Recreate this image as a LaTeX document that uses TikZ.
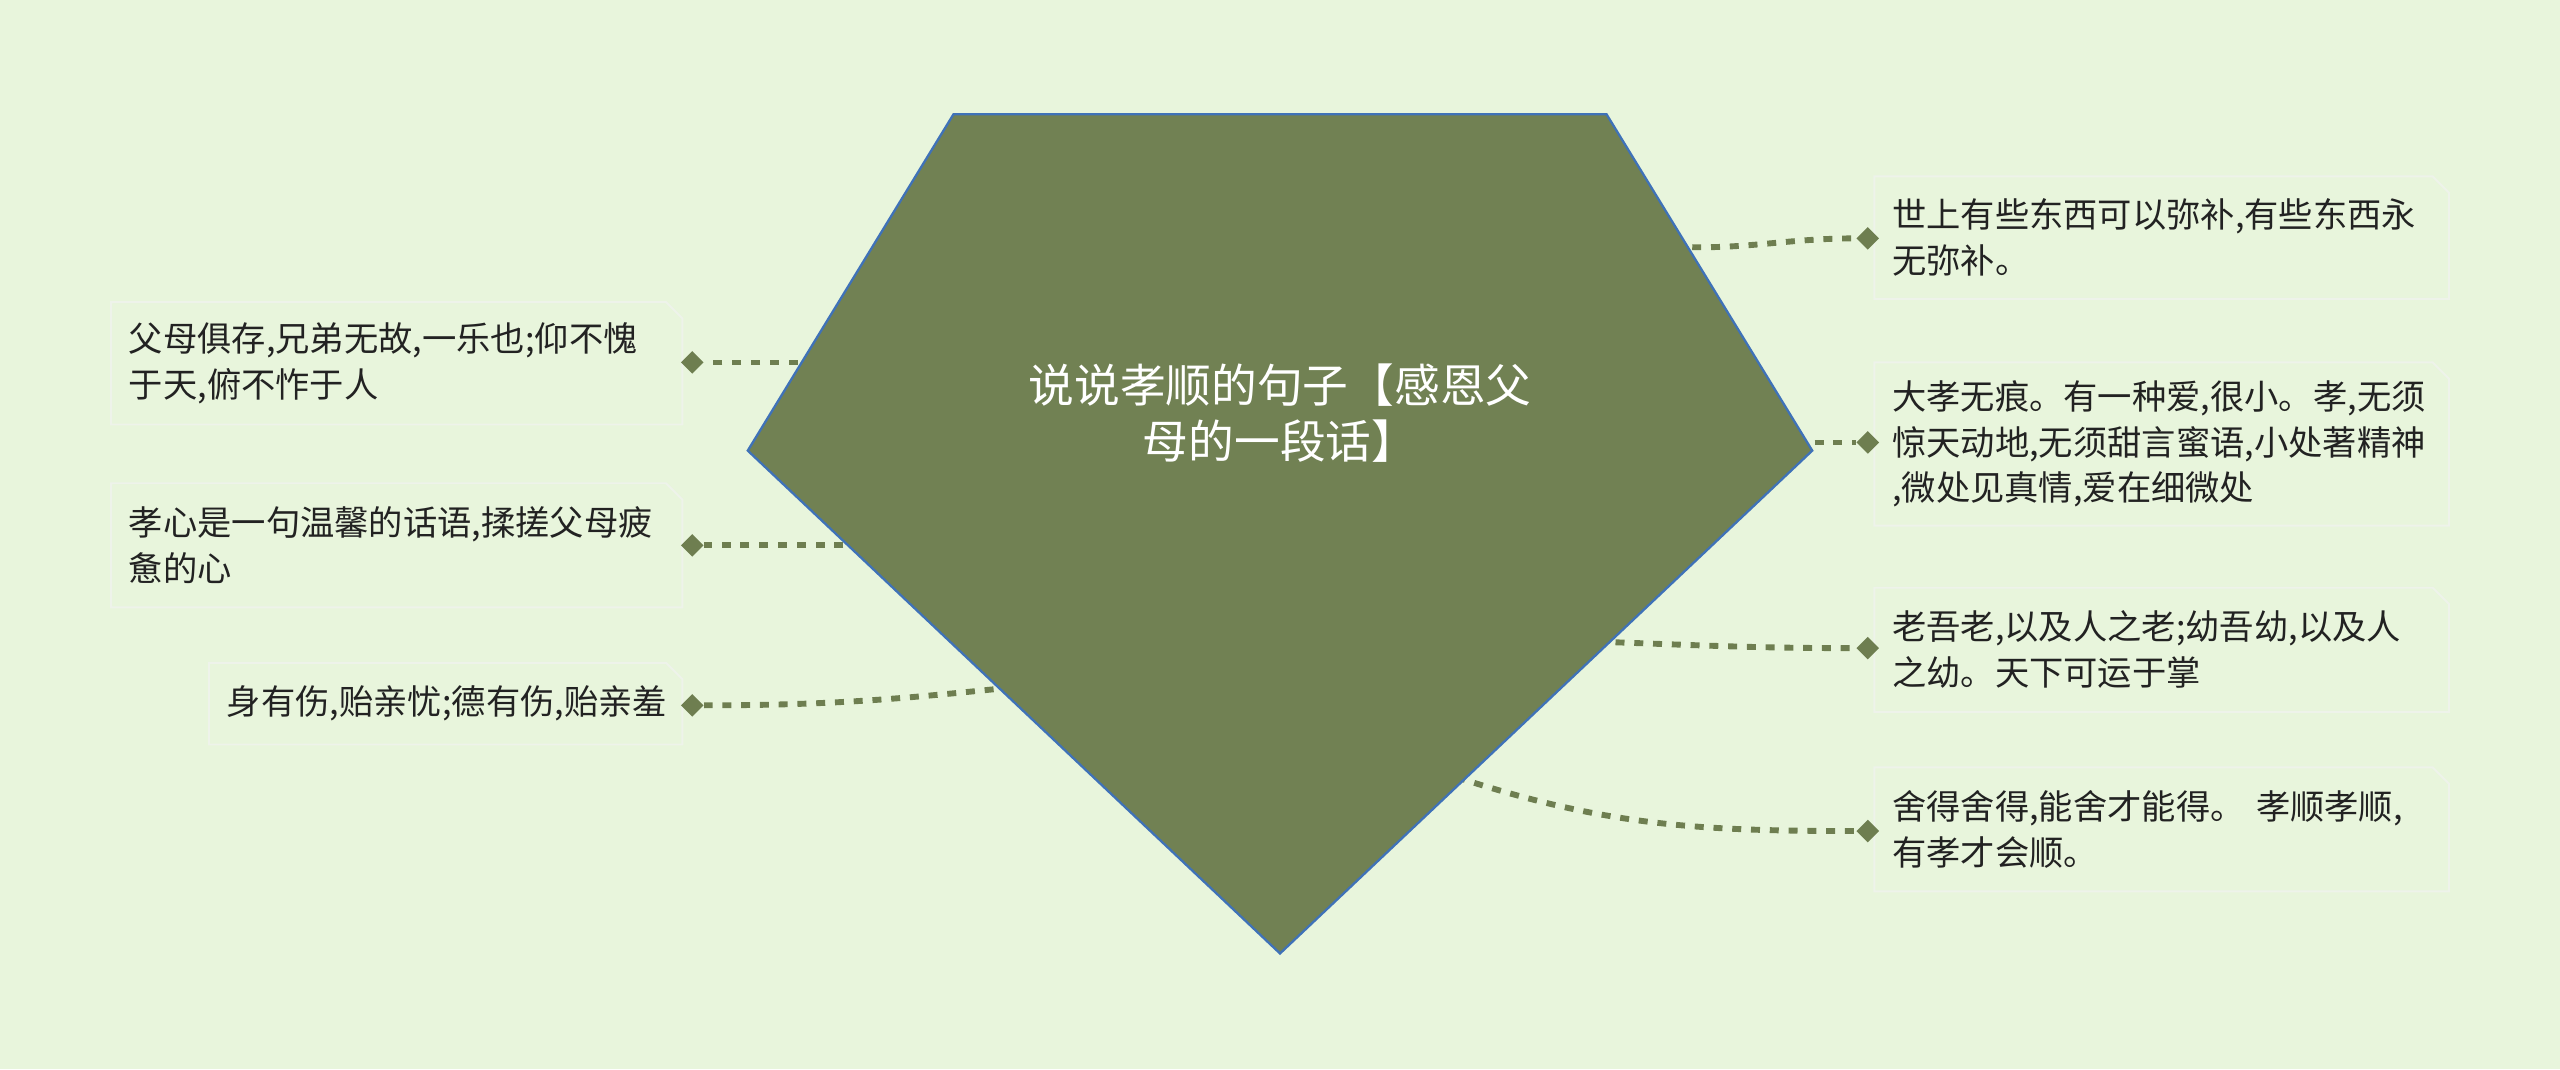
\documentclass[tikz,border=0pt]{standalone}
\usepackage{fontspec}
\setmainfont{Noto Sans CJK SC}
\usetikzlibrary{shapes.geometric,shapes.misc}
\definecolor{bgc}{HTML}{E8F5DC}
\definecolor{hubfill}{HTML}{718153}
\definecolor{hubline}{HTML}{3F72B8}
\definecolor{linkc}{HTML}{6E7E50}
\definecolor{leafline}{HTML}{EEF3EA}
\definecolor{txt}{HTML}{222222}
\tikzset{
  leaf/.style={chamfered rectangle, chamfered rectangle corners=north east,
    chamfered rectangle xsep=5pt, chamfered rectangle ysep=5pt,
    draw=leafline, line width=1.2pt, inner xsep=6pt, inner ysep=0pt,
    text width=#1, align=left, text=txt,
    font=\fontsize{21}{28}\selectfont},
  dot/.style={diamond, fill=linkc, inner sep=0pt, minimum width=14pt, minimum height=14pt},
  link/.style={draw=linkc, line width=3.6pt, dash pattern=on 5.5pt off 6pt},
  title/.style={text=white, align=center, font=\fontsize{28}{34}\selectfont}
}
\begin{document}
\begin{tikzpicture}[x=1pt,y=-1pt]
	\useasboundingbox (0,0) rectangle (1568,655);
	\fill[bgc] (0,0) rectangle (1568,655);
	% points on the pentagon edge
	\coordinate (el1) at (500,222);
	\coordinate (el2) at (528,334);
	\coordinate (el3) at (620,421);
	\coordinate (er1) at (1025,151);
	\coordinate (er2) at (1100,271);
	\coordinate (er3) at (978,393);
	\coordinate (er4) at (892,476);
	% left leaves
	\node[leaf=328pt, minimum height=75pt] (l1) at (243,222.5) {父母俱存,兄弟无故,一乐也;仰不愧\\于天,俯不怍于人};
	\node[leaf=328pt, minimum height=76pt] (l2) at (243,334) {孝心是一句温馨的话语,揉搓父母疲\\惫的心};
	\node[leaf=268pt, minimum height=50pt] (l3) at (273,431) {身有伤,贻亲忧;德有伤,贻亲羞};
	% right leaves
	\node[leaf=330pt, minimum height=75pt] (r1) at (1324,145.5) {世上有些东西可以弥补,有些东西永\\无弥补。};
	\node[leaf=330pt, minimum height=100pt] (r2) at (1324,272) {大孝无痕。有一种爱,很小。孝,无须\\惊天动地,无须甜言蜜语,小处著精神\\,微处见真情,爱在细微处};
	\node[leaf=330pt, minimum height=76pt] (r3) at (1324,398) {老吾老,以及人之老;幼吾幼,以及人\\之幼。天下可运于掌};
	\node[leaf=330pt, minimum height=76pt] (r4) at (1324,508) {舍得舍得,能舍才能得。 孝顺孝顺,\\有孝才会顺。};
	% diamonds
	\node[dot] (dl1) at (424,222) {};
	\node[dot] (dl2) at (424,334) {};
	\node[dot] (dl3) at (424,432) {};
	\node[dot] (dr1) at (1144,146) {};
	\node[dot] (dr2) at (1144,271) {};
	\node[dot] (dr3) at (1144,397) {};
	\node[dot] (dr4) at (1144,509) {};
	% connectors
	\draw[link] (el1) -- (dl1);
	\draw[link] (el2) -- (dl2);
	\draw[link] (el3) to[out=186,in=0] (dl3);
	\draw[link] (er1) to[out=-3,in=180] (dr1);
	\draw[link] (er2) -- (dr2);
	\draw[link] (er3) to[out=-2,in=180] (dr3);
	\draw[link] (er4) to[out=-18,in=180] (dr4);
	% centre
	\draw[fill=hubfill, draw=hubline, line width=1.4pt, line join=miter]
		(584,70) -- (984,70) -- (1110,276) -- (784,584) -- (458,276) -- cycle;
	\node[title] (hub) at (784,253) {说说孝顺的句子【感恩父\\母的一段话】};
\end{tikzpicture}
\end{document}
